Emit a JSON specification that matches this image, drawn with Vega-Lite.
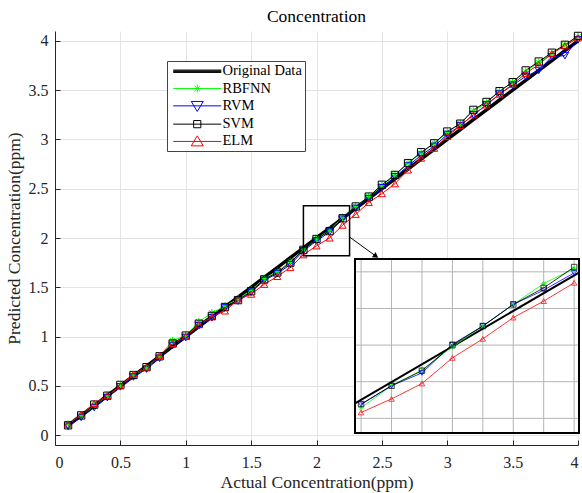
{
  "$schema": "https://vega.github.io/schema/vega-lite/v6.json",
  "width": 523,
  "height": 414,
  "autosize": "none",
  "padding": {"left": 55, "top": 31, "right": 4, "bottom": 48},
  "background": "white",
  "title": {"text": "Concentration", "font": "Liberation Serif", "fontSize": 17.5, "fontWeight": "normal", "color": "black", "offset": 5},
  "config": {
    "view": {"stroke": null},
    "axis": {"labelFont": "Liberation Serif", "titleFont": "Liberation Serif", "labelFontSize": 16, "titleFontSize": 17.5, "titleFontWeight": "normal", "labelColor": "#262626", "titleColor": "#262626", "gridColor": "#e3e3e3", "domainColor": "#262626", "tickColor": "#262626", "tickSize": -5},
    "legend": {"fillColor": "white", "strokeColor": "#444444", "padding": 3, "labelFont": "Liberation Serif", "labelFontSize": 14.5, "labelColor": "black", "symbolSize": 64, "rowPadding": 2.3, "symbolOffset": 20, "labelOffset": 18, "symbolStrokeWidth": 1}
  },
  "datasets": {
    "main": [
      {"x":0.1,"orig":0.1,"RBFNN":0.11,"RVM":0.09,"SVM":0.1,"ELM":0.11},
      {"x":0.2,"orig":0.2,"RBFNN":0.2,"RVM":0.18,"SVM":0.2,"ELM":0.21},
      {"x":0.3,"orig":0.3,"RBFNN":0.3,"RVM":0.28,"SVM":0.31,"ELM":0.32},
      {"x":0.4,"orig":0.4,"RBFNN":0.4,"RVM":0.38,"SVM":0.4,"ELM":0.4},
      {"x":0.5,"orig":0.5,"RBFNN":0.5,"RVM":0.49,"SVM":0.51,"ELM":0.5},
      {"x":0.6,"orig":0.6,"RBFNN":0.61,"RVM":0.59,"SVM":0.61,"ELM":0.62},
      {"x":0.7,"orig":0.7,"RBFNN":0.68,"RVM":0.67,"SVM":0.69,"ELM":0.69},
      {"x":0.8,"orig":0.8,"RBFNN":0.8,"RVM":0.78,"SVM":0.8,"ELM":0.81},
      {"x":0.9,"orig":0.9,"RBFNN":0.96,"RVM":0.91,"SVM":0.93,"ELM":0.93},
      {"x":1.0,"orig":1.0,"RBFNN":1.01,"RVM":0.99,"SVM":1.01,"ELM":1.0},
      {"x":1.1,"orig":1.1,"RBFNN":1.15,"RVM":1.11,"SVM":1.13,"ELM":1.12},
      {"x":1.2,"orig":1.2,"RBFNN":1.24,"RVM":1.19,"SVM":1.21,"ELM":1.2},
      {"x":1.3,"orig":1.3,"RBFNN":1.31,"RVM":1.29,"SVM":1.3,"ELM":1.26},
      {"x":1.4,"orig":1.4,"RBFNN":1.38,"RVM":1.36,"SVM":1.37,"ELM":1.37},
      {"x":1.5,"orig":1.5,"RBFNN":1.47,"RVM":1.45,"SVM":1.46,"ELM":1.43},
      {"x":1.6,"orig":1.6,"RBFNN":1.59,"RVM":1.57,"SVM":1.58,"ELM":1.53},
      {"x":1.7,"orig":1.7,"RBFNN":1.66,"RVM":1.64,"SVM":1.65,"ELM":1.61},
      {"x":1.8,"orig":1.8,"RBFNN":1.76,"RVM":1.73,"SVM":1.75,"ELM":1.7},
      {"x":1.9,"orig":1.9,"RBFNN":1.88,"RVM":1.87,"SVM":1.88,"ELM":1.83},
      {"x":2.0,"orig":2.0,"RBFNN":1.99,"RVM":1.97,"SVM":1.99,"ELM":1.92},
      {"x":2.1,"orig":2.1,"RBFNN":2.08,"RVM":2.06,"SVM":2.07,"ELM":2.0},
      {"x":2.2,"orig":2.2,"RBFNN":2.21,"RVM":2.19,"SVM":2.2,"ELM":2.13},
      {"x":2.3,"orig":2.3,"RBFNN":2.32,"RVM":2.3,"SVM":2.32,"ELM":2.24},
      {"x":2.4,"orig":2.4,"RBFNN":2.42,"RVM":2.4,"SVM":2.42,"ELM":2.36},
      {"x":2.5,"orig":2.5,"RBFNN":2.53,"RVM":2.51,"SVM":2.54,"ELM":2.45},
      {"x":2.6,"orig":2.6,"RBFNN":2.64,"RVM":2.62,"SVM":2.64,"ELM":2.55},
      {"x":2.7,"orig":2.7,"RBFNN":2.76,"RVM":2.73,"SVM":2.76,"ELM":2.69},
      {"x":2.8,"orig":2.8,"RBFNN":2.86,"RVM":2.84,"SVM":2.87,"ELM":2.81},
      {"x":2.9,"orig":2.9,"RBFNN":2.96,"RVM":2.93,"SVM":2.96,"ELM":2.91},
      {"x":3.0,"orig":3.0,"RBFNN":3.07,"RVM":3.05,"SVM":3.08,"ELM":3.03},
      {"x":3.1,"orig":3.1,"RBFNN":3.16,"RVM":3.14,"SVM":3.16,"ELM":3.14},
      {"x":3.2,"orig":3.2,"RBFNN":3.29,"RVM":3.25,"SVM":3.3,"ELM":3.25},
      {"x":3.3,"orig":3.3,"RBFNN":3.37,"RVM":3.35,"SVM":3.38,"ELM":3.35},
      {"x":3.4,"orig":3.4,"RBFNN":3.49,"RVM":3.46,"SVM":3.49,"ELM":3.46},
      {"x":3.5,"orig":3.5,"RBFNN":3.58,"RVM":3.55,"SVM":3.58,"ELM":3.56},
      {"x":3.6,"orig":3.6,"RBFNN":3.69,"RVM":3.64,"SVM":3.7,"ELM":3.67},
      {"x":3.7,"orig":3.7,"RBFNN":3.78,"RVM":3.7,"SVM":3.79,"ELM":3.76},
      {"x":3.8,"orig":3.8,"RBFNN":3.87,"RVM":3.84,"SVM":3.88,"ELM":3.87},
      {"x":3.9,"orig":3.9,"RBFNN":3.96,"RVM":3.85,"SVM":3.96,"ELM":3.95},
      {"x":4.0,"orig":4.0,"RBFNN":4.04,"RVM":4.01,"SVM":4.05,"ELM":4.03}
    ],
    "inset": [
      {"x":1.9,"RBFNN":1.879,"RVM":1.888,"SVM":1.889,"ELM":1.866},
      {"x":1.95,"RBFNN":1.939,"RVM":1.939,"SVM":1.939,"ELM":1.903},
      {"x":2.0,"RBFNN":1.982,"RVM":1.974,"SVM":1.98,"ELM":1.945},
      {"x":2.05,"RBFNN":2.045,"RVM":2.052,"SVM":2.05,"ELM":2.015},
      {"x":2.1,"RBFNN":2.102,"RVM":2.102,"SVM":2.102,"ELM":2.067},
      {"x":2.15,"RBFNN":2.161,"RVM":2.161,"SVM":2.161,"ELM":2.125},
      {"x":2.2,"RBFNN":2.218,"RVM":2.2,"SVM":2.206,"ELM":2.17},
      {"x":2.25,"RBFNN":2.259,"RVM":2.247,"SVM":2.263,"ELM":2.22}
    ],
    "insetLine": [{"x":1.89,"y":1.891},{"x":2.258,"y":2.248}]
  },
  "layer": [
    {
      "layer": [
        {"data": {"name": "main"}, "mark": {"type": "line", "color": "black", "strokeWidth": 3.5},
         "encoding": {
           "x": {"field": "x", "type": "quantitative", "scale": {"domain": [0, 4], "nice": false, "zero": false},
                 "axis": {"title": "Actual Concentration(ppm)", "values": [0,0.5,1,1.5,2,2.5,3,3.5,4], "format": "~g", "labelPadding": 14, "titlePadding": 3}},
           "y": {"field": "orig", "type": "quantitative", "scale": {"domain": [-0.1, 4.1], "nice": false, "zero": false},
                 "axis": {"title": "Predicted Concentration(ppm)", "values": [0,0.5,1,1.5,2,2.5,3,3.5,4], "format": "~g", "labelPadding": 12, "titlePadding": 5}}
         }},
        {"data": {"name": "main"}, "transform": [{"fold": ["RBFNN","RVM","SVM","ELM"], "as": ["series","y"]}],
         "mark": {"type": "line", "strokeWidth": 1},
         "encoding": {
           "x": {"field": "x", "type": "quantitative"},
           "y": {"field": "y", "type": "quantitative"},
           "color": {"field": "series", "type": "nominal", "scale": {"domain": ["RBFNN","RVM","SVM","ELM"], "range": ["#00ff00","#0000ff","#000000","#ff0000"]}, "legend": null}}},
        {"data": {"name": "main"}, "transform": [{"fold": ["RBFNN","RVM","SVM","ELM"], "as": ["series","y"]}],
         "mark": {"type": "point", "filled": false, "strokeWidth": 1, "opacity": 1},
         "encoding": {
           "x": {"field": "x", "type": "quantitative"},
           "y": {"field": "y", "type": "quantitative"},
           "color": {"field": "series", "type": "nominal", "legend": null},
           "shape": {"field": "series", "type": "nominal", "scale": {"domain": ["RBFNN","RVM","SVM","ELM"], "range": ["M0,-1V1M-1,0H1M-0.7,-0.7L0.7,0.7M-0.7,0.7L0.7,-0.7","triangle-down","square","triangle-up"]}, "legend": null},
           "size": {"field": "series", "type": "nominal", "scale": {"domain": ["RBFNN","RVM","SVM","ELM"], "range": [60, 50, 64, 110]}, "legend": null}
         }},
        {"data": {"values": [{}]}, "mark": {"type": "rect", "fillOpacity": 0, "stroke": "black", "strokeWidth": 1.5},
         "encoding": {"x": {"datum": 1.9, "type": "quantitative"}, "x2": {"datum": 2.253}, "y": {"datum": 1.82, "type": "quantitative"}, "y2": {"datum": 2.328}}},
        {"data": {"values": [{}]}, "mark": {"type": "rule", "color": "black", "strokeWidth": 1},
         "encoding": {"x": {"datum": 2.253, "type": "quantitative"}, "x2": {"datum": 2.46}, "y": {"datum": 2.01, "type": "quantitative"}, "y2": {"datum": 1.81}}},
        {"data": {"values": [{}]}, "mark": {"type": "point", "shape": "triangle-up", "filled": true, "color": "black", "size": 40, "angle": 126, "opacity": 1},
         "encoding": {"x": {"datum": 2.455, "type": "quantitative"}, "y": {"datum": 1.815, "type": "quantitative"}}}
      ]
    },
    {
      "layer": [
        {"data": {"values": [{}]}, "mark": {"type": "rect", "fill": "white"},
         "encoding": {
           "x": {"datum": 1.89, "type": "quantitative", "scale": {"domain": [1.89, 2.258], "range": [300, 524], "nice": false, "zero": false}, "axis": null},
           "x2": {"datum": 2.258},
           "y": {"datum": 1.81, "type": "quantitative", "scale": {"domain": [1.81, 2.285], "range": [402, 228], "nice": false, "zero": false}, "axis": null},
           "y2": {"datum": 2.285}}},
        {"data": {"values": [{}]}, "mark": {"type": "rect", "fillOpacity": 0, "stroke": "#b4b4b4", "strokeWidth": 1}, "encoding": {"x": {"datum": 1.9, "type": "quantitative"}, "x2": {"datum": 1.95}, "y": {"datum": 1.81, "type": "quantitative"}, "y2": {"datum": 2.285}}},
        {"data": {"values": [{}]}, "mark": {"type": "rect", "fillOpacity": 0, "stroke": "#b4b4b4", "strokeWidth": 1}, "encoding": {"x": {"datum": 2.0, "type": "quantitative"}, "x2": {"datum": 2.05}, "y": {"datum": 1.81, "type": "quantitative"}, "y2": {"datum": 2.285}}},
        {"data": {"values": [{}]}, "mark": {"type": "rect", "fillOpacity": 0, "stroke": "#b4b4b4", "strokeWidth": 1}, "encoding": {"x": {"datum": 2.1, "type": "quantitative"}, "x2": {"datum": 2.15}, "y": {"datum": 1.81, "type": "quantitative"}, "y2": {"datum": 2.285}}},
        {"data": {"values": [{}]}, "mark": {"type": "rect", "fillOpacity": 0, "stroke": "#b4b4b4", "strokeWidth": 1}, "encoding": {"x": {"datum": 2.2, "type": "quantitative"}, "x2": {"datum": 2.25}, "y": {"datum": 1.81, "type": "quantitative"}, "y2": {"datum": 2.285}}},
        {"data": {"values": [{}]}, "mark": {"type": "rect", "fillOpacity": 0, "stroke": "#b4b4b4", "strokeWidth": 1}, "encoding": {"y": {"datum": 1.85, "type": "quantitative"}, "y2": {"datum": 1.95}, "x": {"datum": 1.89, "type": "quantitative"}, "x2": {"datum": 2.258}}},
        {"data": {"values": [{}]}, "mark": {"type": "rect", "fillOpacity": 0, "stroke": "#b4b4b4", "strokeWidth": 1}, "encoding": {"y": {"datum": 2.05, "type": "quantitative"}, "y2": {"datum": 2.15}, "x": {"datum": 1.89, "type": "quantitative"}, "x2": {"datum": 2.258}}},
        {"data": {"values": [{}]}, "mark": {"type": "rect", "fillOpacity": 0, "stroke": "#b4b4b4", "strokeWidth": 1}, "encoding": {"y": {"datum": 2.25, "type": "quantitative"}, "y2": {"datum": 2.285}, "x": {"datum": 1.89, "type": "quantitative"}, "x2": {"datum": 2.258}}},
        {"data": {"name": "insetLine"}, "mark": {"type": "line", "color": "black", "strokeWidth": 2},
         "encoding": {"x": {"field": "x", "type": "quantitative"}, "y": {"field": "y", "type": "quantitative"}}},
        {"data": {"name": "inset"}, "transform": [{"fold": ["RBFNN","RVM","SVM","ELM"], "as": ["series","y"]}],
         "mark": {"type": "line", "strokeWidth": 1, "opacity": 0.8},
         "encoding": {
           "x": {"field": "x", "type": "quantitative"},
           "y": {"field": "y", "type": "quantitative"},
           "color": {"field": "series", "type": "nominal", "scale": {"domain": ["RBFNN","RVM","SVM","ELM"], "range": ["#00ff00","#0000ff","#000000","#ff0000"]}, "legend": null}}},
        {"data": {"name": "inset"}, "transform": [{"fold": ["RBFNN","RVM","SVM","ELM"], "as": ["series","y"]}],
         "mark": {"type": "point", "filled": false, "strokeWidth": 0.8, "opacity": 0.9, "size": 30},
         "encoding": {
           "x": {"field": "x", "type": "quantitative"},
           "y": {"field": "y", "type": "quantitative"},
           "color": {"field": "series", "type": "nominal", "legend": null},
           "shape": {"field": "series", "type": "nominal", "scale": {"domain": ["RBFNN","RVM","SVM","ELM"], "range": ["M0,-1V1M-1,0H1M-0.7,-0.7L0.7,0.7M-0.7,0.7L0.7,-0.7","triangle-down","square","triangle-up"]}, "legend": null}
         }},
        {"data": {"values": [{}]}, "mark": {"type": "rect", "fillOpacity": 0, "stroke": "black", "strokeWidth": 2},
         "encoding": {"x": {"datum": 1.89, "type": "quantitative"}, "x2": {"datum": 2.258}, "y": {"datum": 1.81, "type": "quantitative"}, "y2": {"datum": 2.285}}}
      ]
    },
    {
      "data": {"values": [{"series": "none"}]},
      "transform": [{"filter": "false"}],
      "mark": {"type": "point", "filled": false, "size": 64, "opacity": 1},
      "encoding": {
        "shape": {"field": "series", "type": "nominal",
          "scale": {"domain": ["Original Data","RBFNN","RVM","SVM","ELM"],
                    "range": ["M-6,-0.3H6M-6,-0.1H6M-6,0.1H6M-6,0.3H6","M-6,0H6M0,-1V1M-1,0H1M-0.7,-0.7L0.7,0.7M-0.7,0.7L0.7,-0.7","M-6,0H6M-1.5,-1.1H1.5L0,1.4Z","M-6,0H6M-0.9,-0.9H0.9V0.9H-0.9Z","M-6,0H6M0,-1.4L1.5,1.1H-1.5Z"]},
          "legend": {"title": null, "orient": "none", "legendX": 112, "legendY": 30, "strokeColor": "#444444", "fillColor": "white",
                     "encode": {"legend": {"update": {"stroke": {"value": "#444444"}, "strokeWidth": {"value": 1}, "fill": {"value": "white"}}}}}},
        "color": {"field": "series", "type": "nominal",
          "scale": {"domain": ["Original Data","RBFNN","RVM","SVM","ELM"], "range": ["#000000","#00ff00","#0000ff","#000000","#ff0000"]},
          "legend": {"title": null, "orient": "none", "legendX": 112, "legendY": 30, "strokeColor": "#444444", "fillColor": "white",
                     "encode": {"legend": {"update": {"stroke": {"value": "#444444"}, "strokeWidth": {"value": 1}, "fill": {"value": "white"}}}}}}
      }
    }
  ],
  "resolve": {"scale": {"x": "independent", "y": "independent", "color": "independent", "shape": "independent", "size": "independent"}}
}
